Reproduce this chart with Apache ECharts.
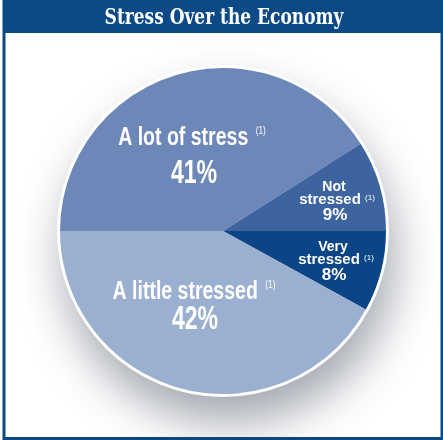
<!DOCTYPE html>
<html>
<head>
<meta charset="utf-8">
<script src="https://cdn.jsdelivr.net/npm/echarts@6/dist/echarts.min.js"></script>
<style>html,body{margin:0;padding:0;background:#fff;}#c{width:443px;height:440px;}</style>
</head>
<body>
<div id="c"></div>
<script>
var title = 'Stress Over the Economy';
var categories = ['A lot of stress', 'Not stressed', 'Very stressed', 'A little stressed'];
var values = [41, 9, 8, 42];
var colors = ['#6d88b8', '#3e64a0', '#0b4585', '#9bafd0'];
var noteMark = '(1)';

var chart = echarts.init(document.getElementById('c'), null, {renderer: 'canvas'});
var CX = 223, CY = 231, R = 163;

function f(s, w) { return (w || 'bold') + ' ' + s + 'px "Liberation Sans", Arial, sans-serif'; }

// big labels: [index, nameX, nameY(center), pctX, pctY(center)]
var bigLayout = [[0, 192, 138, 194, 174], [3, 194, 292, 195, 320]];
// small labels: [index, x, first line center y]
var smallLayout = [[1, 334, 187], [2, 333, 247]];

var graphics = [
  {type: 'rect', shape: {x: 4, y: 1, width: 438, height: 437.5}, style: {fill: '#fff', stroke: '#0b4a86', lineWidth: 3}, z: -10},
  {type: 'rect', shape: {x: 4, y: 0, width: 439, height: 33}, style: {fill: '#0b4a86'}, z: -9},
  {type: 'text', x: 224, y: 18, scaleX: 0.86, style: {text: title, fill: '#fff', font: 'bold 22px "DejaVu Serif Condensed", "DejaVu Serif", serif', align: 'center', verticalAlign: 'middle'}, z: 5}
];

bigLayout.forEach(function (b) {
  var i = b[0];
  graphics.push({type: 'text', x: b[1], y: b[2], scaleX: 0.75, z: 10, style: {
    text: '{n|' + categories[i] + '}   {s|' + noteMark + '}', align: 'center', verticalAlign: 'middle', fill: '#fff',
    rich: {n: {font: f(26), fill: '#fff'}, s: {font: f(11, 'normal'), fill: '#fff', padding: [0, 0, 14, 0]}}
  }});
  graphics.push({type: 'text', x: b[3], y: b[4], scaleX: 0.7, z: 10, style: {
    text: values[i] + '%', font: f(33), fill: '#fff', align: 'center', verticalAlign: 'middle'
  }});
});
smallLayout.forEach(function (s) {
  var i = s[0];
  var parts = categories[i].split(' ');
  graphics.push({type: 'text', x: s[1], y: s[2], z: 10, style: {text: parts[0], font: f(14), fill: '#fff', align: 'center', verticalAlign: 'middle'}});
  graphics.push({type: 'text', x: s[1] - 4, y: s[2] + 13, z: 10, style: {text: parts[1], font: f(15), fill: '#fff', align: 'center', verticalAlign: 'middle'}});
  graphics.push({type: 'text', x: s[1] + 36, y: s[2] + 11, z: 10, style: {text: noteMark, font: f(8, 'normal'), fill: '#fff', align: 'center', verticalAlign: 'middle'}});
  graphics.push({type: 'text', x: s[1] + 1, y: s[2] + 28, z: 10, style: {text: values[i] + '%', font: f(17), fill: '#fff', align: 'center', verticalAlign: 'middle'}});
});

var option = {
  animation: false,
  graphic: graphics,
  series: [
    {
      type: 'pie', silent: true, center: [CX, CY], radius: [0, R + 3],
      label: {show: false}, labelLine: {show: false},
      data: [{value: 1, itemStyle: {color: '#fff', shadowBlur: 45, shadowColor: 'rgba(30,40,60,0.4)', shadowOffsetX: 6, shadowOffsetY: 26}}],
      z: 1
    },
    {
      type: 'pie', center: [CX, CY], radius: [0, R],
      startAngle: 180, clockwise: true, silent: true,
      data: categories.map(function (c, i) { return {name: c, value: values[i], itemStyle: {color: colors[i]}}; }),
      itemStyle: {borderWidth: 0},
      label: {show: false}, labelLine: {show: false},
      z: 2
    }
  ]
};
chart.setOption(option);
</script>
</body>
</html>
